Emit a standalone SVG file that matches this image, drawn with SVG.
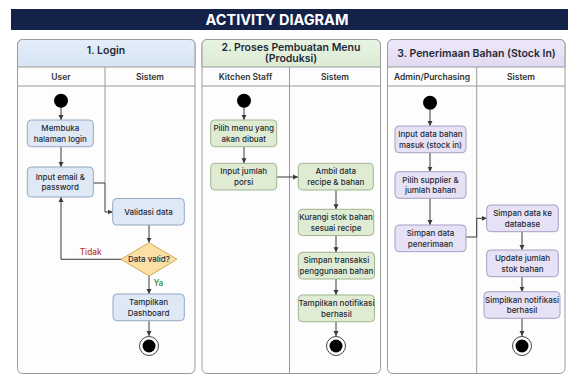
<svg xmlns="http://www.w3.org/2000/svg" width="568" height="380" viewBox="0 0 568 380">
<style>
text{font-family:Inter,"Liberation Sans",sans-serif;fill:#1f2a36;text-anchor:middle}
.title{font-size:14.5px;font-weight:700;fill:#ffffff}
.ph{font-size:10.5px;font-weight:600}
.lh{font-size:8.5px;font-weight:600;fill:#333}
.nt{font-size:8px;font-weight:500}
.panel{fill:#fdfdfd;stroke:#9a9a9a;stroke-width:1}
.ln{stroke:#9a9a9a;stroke-width:1;fill:none}
.b{fill:#dfe9f5;stroke:#93a8c2;stroke-width:1}
.g{fill:#dfecd3;stroke:#9fb58e;stroke-width:1}
.p{fill:#e6e1f4;stroke:#a69ec5;stroke-width:1}
.c{stroke:#3a3a3a;stroke-width:1;fill:none;marker-end:url(#ah)}
.start{fill:#000}
.endo{fill:#fff;stroke:#444;stroke-width:1}
.endi{fill:#000}
</style>
<defs>
<marker id="ah" markerWidth="6" markerHeight="6" refX="5" refY="3" orient="auto" markerUnits="userSpaceOnUse">
<path d="M0,0.5 L5,3 L0,5.5 Z" fill="#3a3a3a"/>
</marker>
<linearGradient id="hb" x1="0" y1="0" x2="0" y2="1"><stop offset="0" stop-color="#e4eef9"/><stop offset="1" stop-color="#d6e4f3"/></linearGradient>
<linearGradient id="hg" x1="0" y1="0" x2="0" y2="1"><stop offset="0" stop-color="#e9f4e3"/><stop offset="1" stop-color="#dcebd4"/></linearGradient>
<linearGradient id="hp" x1="0" y1="0" x2="0" y2="1"><stop offset="0" stop-color="#ede8f8"/><stop offset="1" stop-color="#e1daf2"/></linearGradient>
</defs>
<rect width="568" height="380" fill="#ffffff"/>
<g id="title">
<rect x="11" y="9" width="557" height="21" fill="#14224a"/>
<text class="title" x="277" y="24.8">ACTIVITY DIAGRAM</text>
</g>
<g id="panel1">
<rect class="panel" x="17.5" y="39.5" width="177.5" height="334" rx="5"/>
<path d="M17.5,67 V44.5 a5,5 0 0 1 5,-5 H190 a5,5 0 0 1 5,5 V67 Z" fill="url(#hb)" stroke="#9a9a9a"/>
<text class="ph" x="106" y="53.5">1. Login</text>
<line class="ln" x1="17.5" y1="86" x2="195" y2="86"/>
<line class="ln" x1="105" y1="67" x2="105" y2="183"/>
<text class="lh" x="61" y="79.5">User</text>
<text class="lh" x="150" y="79.5">Sistem</text>
</g>
<g id="panel2">
<rect class="panel" x="202" y="39.5" width="178.5" height="334" rx="5"/>
<path d="M202,67 V44.5 a5,5 0 0 1 5,-5 H375.5 a5,5 0 0 1 5,5 V67 Z" fill="url(#hg)" stroke="#9a9a9a"/>
<text class="ph" x="291" y="50.5">2. Proses Pembuatan Menu</text>
<text class="ph" x="291" y="62">(Produksi)</text>
<line class="ln" x1="202" y1="86" x2="380.5" y2="86"/>
<line class="ln" x1="289.5" y1="67" x2="289.5" y2="373.5"/>
<text class="lh" x="245.5" y="79.5">Kitchen Staff</text>
<text class="lh" x="335" y="79.5">Sistem</text>
</g>
<g id="panel3">
<rect class="panel" x="387.5" y="39.5" width="177.5" height="334" rx="5"/>
<path d="M387.5,67 V44.5 a5,5 0 0 1 5,-5 H560 a5,5 0 0 1 5,5 V67 Z" fill="url(#hp)" stroke="#9a9a9a"/>
<text class="ph" x="476.5" y="56.5">3. Penerimaan Bahan (Stock In)</text>
<line class="ln" x1="387.5" y1="86" x2="565" y2="86"/>
<line class="ln" x1="476.7" y1="67" x2="476.7" y2="373.5"/>
<text class="lh" x="432" y="79.5">Admin/Purchasing</text>
<text class="lh" x="521" y="79.5">Sistem</text>
</g>
<g id="connectors">
<line class="c" x1="61" y1="107" x2="61" y2="120"/>
<line class="c" x1="61" y1="146.7" x2="61" y2="167"/>
<path class="c" d="M93,183 H105 V212 H112.7"/>
<line class="c" x1="149" y1="225" x2="149" y2="242.7"/>
<path class="c" d="M121,259.3 H61 V197"/>
<line class="c" x1="149" y1="276" x2="149" y2="294"/>
<line class="c" x1="149" y1="320.7" x2="149" y2="336"/>
<line class="c" x1="244" y1="107" x2="244" y2="120"/>
<line class="c" x1="244" y1="146.7" x2="244" y2="163.3"/>
<line class="c" x1="276.7" y1="177" x2="298" y2="177"/>
<line class="c" x1="336" y1="190" x2="336" y2="209.3"/>
<line class="c" x1="336" y1="235.5" x2="336" y2="252.3"/>
<line class="c" x1="336" y1="279" x2="336" y2="295"/>
<line class="c" x1="336" y1="321.7" x2="336" y2="336"/>
<line class="c" x1="430" y1="109.5" x2="430" y2="126"/>
<line class="c" x1="430" y1="152.7" x2="430" y2="171.7"/>
<line class="c" x1="430" y1="198.3" x2="430" y2="225"/>
<path class="c" d="M466,237 H476.7 V218.3 H486.7"/>
<line class="c" x1="522" y1="231.7" x2="522" y2="250"/>
<line class="c" x1="522" y1="276.7" x2="522" y2="291.7"/>
<line class="c" x1="522" y1="318.3" x2="522" y2="336"/>
<text x="90.7" y="255" style="font-size:8.3px;font-weight:500;fill:#c0392b">Tidak</text>
<text x="158.3" y="286" style="font-size:8.3px;font-weight:500;fill:#2e8b3a">Ya</text>
</g>
<g id="start1"><circle class="start" cx="61" cy="100.7" r="7"/></g>
<g id="n_membuka"><rect class="b" x="27.3" y="120" width="66" height="26.7" rx="4"/><text class="nt" x="60.3" y="131">Membuka</text><text class="nt" x="60.3" y="141.5">halaman login</text></g>
<g id="n_input_email"><rect class="b" x="27.3" y="167" width="66" height="30" rx="4"/><text class="nt" x="60.3" y="179.5">Input email &amp;</text><text class="nt" x="60.3" y="190">password</text></g>
<g id="n_validasi"><rect class="b" x="112.7" y="198.5" width="71.6" height="26.5" rx="4"/><text class="nt" x="148.5" y="214.8">Validasi data</text></g>
<g id="n_valid"><polygon points="149,242.7 177,259.3 149,276 121,259.3" fill="#fbe0a6" stroke="#d6a64c"/><text class="nt" x="149" y="262.3">Data valid?</text></g>
<g id="n_dashboard"><rect class="b" x="113" y="294" width="71.3" height="26.7" rx="4"/><text class="nt" x="148.6" y="305">Tampilkan</text><text class="nt" x="148.6" y="315.5">Dashboard</text></g>
<g id="end1"><circle class="endo" cx="149" cy="346" r="9.5"/><circle class="endi" cx="149" cy="346" r="6.5"/></g>
<g id="start2"><circle class="start" cx="244" cy="100.7" r="7"/></g>
<g id="n_pilih_menu"><rect class="g" x="210.7" y="120" width="66" height="26.7" rx="4"/><text class="nt" x="243.7" y="131">Pilih menu yang</text><text class="nt" x="243.7" y="141.5">akan dibuat</text></g>
<g id="n_input_porsi"><rect class="g" x="210.7" y="163.3" width="66" height="26.7" rx="4"/><text class="nt" x="243.7" y="174.3">Input jumlah</text><text class="nt" x="243.7" y="184.8">porsi</text></g>
<g id="n_ambil"><rect class="g" x="298.3" y="163.3" width="75" height="26.7" rx="4"/><text class="nt" x="335.8" y="174.3">Ambil data</text><text class="nt" x="335.8" y="184.8">recipe &amp; bahan</text></g>
<g id="n_kurangi"><rect class="g" x="298.3" y="209.3" width="75.5" height="26.2" rx="4"/><text class="nt" x="336" y="220">Kurangi stok bahan</text><text class="nt" x="336" y="230.5">sesuai recipe</text></g>
<g id="n_simpan_transaksi"><rect class="g" x="298.3" y="252.3" width="76.2" height="26.7" rx="4"/><text class="nt" x="336.4" y="263.3">Simpan transaksi</text><text class="nt" x="336.4" y="273.8">penggunaan bahan</text></g>
<g id="n_notif2"><rect class="g" x="298.3" y="295" width="76.2" height="26.7" rx="4"/><text class="nt" x="336.4" y="306">Tampilkan notifikasi</text><text class="nt" x="336.4" y="316.5">berhasil</text></g>
<g id="end2"><circle class="endo" cx="336" cy="346" r="9.5"/><circle class="endi" cx="336" cy="346" r="6.5"/></g>
<g id="start3"><circle class="start" cx="430" cy="102.7" r="7"/></g>
<g id="n_input_data"><rect class="p" x="395" y="126" width="71" height="26.7" rx="4"/><text class="nt" x="430.5" y="137">Input data bahan</text><text class="nt" x="430.5" y="147.5">masuk (stock in)</text></g>
<g id="n_pilih_supplier"><rect class="p" x="395" y="171.7" width="71" height="26.6" rx="4"/><text class="nt" x="430.5" y="182.6">Pilih supplier &amp;</text><text class="nt" x="430.5" y="193.1">jumlah bahan</text></g>
<g id="n_simpan_penerimaan"><rect class="p" x="395" y="225" width="71" height="26.7" rx="4"/><text class="nt" x="430.5" y="236">Simpan data</text><text class="nt" x="430.5" y="246.5">penerimaan</text></g>
<g id="n_database"><rect class="p" x="486.7" y="205" width="71.6" height="26.7" rx="4"/><text class="nt" x="522.5" y="216">Simpan data ke</text><text class="nt" x="522.5" y="226.5">database</text></g>
<g id="n_update"><rect class="p" x="486.7" y="250" width="71.6" height="26.7" rx="4"/><text class="nt" x="522.5" y="261">Update jumlah</text><text class="nt" x="522.5" y="271.5">stok bahan</text></g>
<g id="n_notif3"><rect class="p" x="484" y="291.7" width="76" height="26.6" rx="4"/><text class="nt" x="522" y="302.6">Simpilkan notifikasi</text><text class="nt" x="522" y="313.1">berhasil</text></g>
<g id="end3"><circle class="endo" cx="522" cy="346" r="9.5"/><circle class="endi" cx="522" cy="346" r="6.5"/></g>
</svg>
